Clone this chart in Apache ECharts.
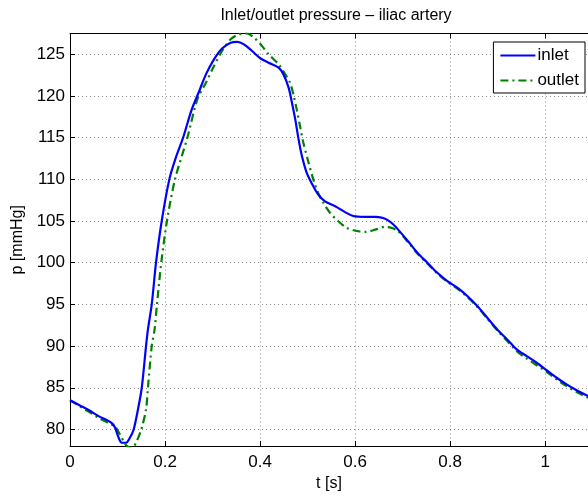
<!DOCTYPE html>
<html>
<head>
<meta charset="utf-8">
<script src="https://cdn.jsdelivr.net/npm/echarts@6/dist/echarts.min.js"></script>
<style>
html,body{margin:0;padding:0;background:#fff;}
#chart{width:588px;height:497px;}
</style>
</head>
<body>
<div id="chart"></div>
<script>
const titleText = 'Inlet/outlet pressure \u2013 iliac artery';
const xName = 't [s]';
const yName = 'p [mmHg]';
const seriesNames = ['inlet', 'outlet'];

const inletT = [0, 0.02, 0.04, 0.06, 0.087, 0.095, 0.101, 0.109, 0.118, 0.126, 0.134, 0.143, 0.151, 0.160, 0.164, 0.172, 0.181, 0.193, 0.209, 0.222, 0.238, 0.255, 0.272, 0.286, 0.303, 0.320, 0.338, 0.352, 0.366, 0.383, 0.401, 0.418, 0.439, 0.449, 0.460, 0.467, 0.474, 0.481, 0.488, 0.498, 0.508, 0.522, 0.536, 0.557, 0.578, 0.596, 0.620, 0.644, 0.662, 0.676, 0.690, 0.711, 0.731, 0.752, 0.773, 0.794, 0.815, 0.836, 0.857, 0.878, 0.899, 0.920, 0.940, 0.961, 0.982, 1.003, 1.024, 1.045, 1.066, 1.09];
const inletP = [83.5, 82.9, 82.3, 81.6, 80.8, 80.2, 79.2, 78.4, 78.4, 79.0, 80.0, 82.4, 85.0, 90.0, 92.0, 95.0, 100.0, 105.0, 110.0, 112.5, 115.0, 118.2, 120.6, 122.6, 124.4, 125.7, 126.4, 126.5, 126.2, 125.4, 124.5, 124.0, 123.4, 122.6, 121.0, 119.2, 117.2, 114.8, 112.8, 110.8, 109.6, 108.2, 107.4, 106.8, 106.1, 105.6, 105.5, 105.5, 105.3, 104.8, 104.0, 102.6, 101.2, 100.0, 98.8, 97.8, 97.0, 96.0, 94.8, 93.4, 92.0, 90.8, 89.6, 88.8, 88.0, 87.1, 86.2, 85.4, 84.7, 84.0];

const outletT = [0, 0.02, 0.04, 0.06, 0.087, 0.094, 0.105, 0.118, 0.127, 0.133, 0.139, 0.150, 0.160, 0.164, 0.172, 0.178, 0.183, 0.192, 0.204, 0.221, 0.247, 0.268, 0.286, 0.303, 0.320, 0.338, 0.355, 0.373, 0.387, 0.401, 0.418, 0.439, 0.453, 0.463, 0.470, 0.477, 0.484, 0.491, 0.502, 0.512, 0.522, 0.533, 0.547, 0.564, 0.582, 0.603, 0.623, 0.644, 0.662, 0.676, 0.690, 0.711, 0.731, 0.752, 0.773, 0.794, 0.815, 0.836, 0.857, 0.878, 0.899, 0.920, 0.940, 0.961, 0.982, 1.003, 1.024, 1.045, 1.066, 1.09];
const outletP = [83.5, 82.8, 82.1, 81.4, 80.6, 80.4, 79.4, 78.1, 77.8, 77.9, 78.4, 80.0, 82.4, 85.0, 90.0, 92.0, 95.0, 100.0, 105.0, 110.0, 115.0, 119.6, 121.6, 123.6, 125.4, 126.8, 127.4, 127.5, 127.0, 126.2, 125.0, 123.8, 122.6, 121.6, 120.2, 118.4, 116.4, 114.4, 112.0, 110.0, 108.4, 107.2, 106.0, 105.0, 104.2, 103.8, 103.7, 104.0, 104.3, 104.2, 103.8, 102.5, 101.1, 99.9, 98.7, 97.7, 96.9, 95.9, 94.7, 93.3, 91.9, 90.6, 89.4, 88.5, 87.7, 86.9, 86.0, 85.2, 84.5, 83.8];

const xMin = 0, xMax = 1.09, xStep = 0.2;
const yMin = 78, yMax = 127.5, yStep = 5;

const FONT = 'Liberation Sans, Arial, Helvetica, sans-serif';

function zip(a, b) { return a.map((v, i) => [v, b[i]]); }

const chart = echarts.init(document.getElementById('chart'), null, {renderer: 'canvas'});

const gridLine = {show: true, lineStyle: {color: '#8a8a8a', type: [1, 3], width: 1}};

chart.setOption({
  animation: false,
  backgroundColor: '#fff',
  title: {
    text: titleText, left: 331, top: 3, textAlign: 'center',
    textStyle: {fontFamily: FONT, fontSize: 16, fontWeight: 'normal', color: '#000'}
  },
  legend: {
    data: seriesNames,
    orient: 'vertical',
    right: 3, top: 42,
    itemWidth: 35, itemHeight: 12, itemGap: 8,
    padding: [5, 6, 4, 6],
    backgroundColor: '#fff',
    borderColor: '#000', borderWidth: 1, borderRadius: 0,
    itemStyle: {opacity: 0},
    textStyle: {fontFamily: FONT, fontSize: 17, color: '#000', padding: [0, 0, 0, -3]}
  },
  grid: {left: 70, right: -4, top: 33.5, bottom: 50, containLabel: false},
  xAxis: [{
    type: 'value', min: xMin, max: xMax, interval: xStep,
    name: xName, nameLocation: 'middle', nameGap: 26,
    nameTextStyle: {fontFamily: FONT, fontSize: 16, color: '#000'},
    axisLine: {show: true, onZero: false, lineStyle: {color: '#000', width: 1}},
    axisTick: {show: true, inside: true, length: 5, lineStyle: {color: '#000'}},
    axisLabel: {fontFamily: FONT, fontSize: 17, color: '#000', margin: 8, showMaxLabel: false},
    splitLine: gridLine
  }, {
    type: 'value', min: xMin, max: xMax, interval: xStep, position: 'top',
    axisLine: {show: true, onZero: false, lineStyle: {color: '#000', width: 1}},
    axisTick: {show: true, inside: true, length: 5, lineStyle: {color: '#000'}},
    axisLabel: {show: false}, splitLine: {show: false}
  }],
  yAxis: [{
    type: 'value', min: yMin, max: yMax, splitNumber: 10, minInterval: yStep, maxInterval: yStep,
    name: yName, nameLocation: 'middle', nameGap: 42,
    nameTextStyle: {fontFamily: FONT, fontSize: 16, color: '#000'},
    axisLine: {show: true, onZero: false, lineStyle: {color: '#000', width: 1}},
    axisTick: {show: true, inside: true, length: 5, lineStyle: {color: '#000'}},
    axisLabel: {fontFamily: FONT, fontSize: 17, color: '#000', margin: 5, showMinLabel: false, showMaxLabel: false},
    splitLine: gridLine
  }],
  series: [{
    name: seriesNames[0], type: 'line', data: zip(inletT, inletP),
    showSymbol: false, symbol: 'none', smooth: 0.3, clip: true,
    lineStyle: {color: '#0000ff', width: 2.2}, itemStyle: {color: '#0000ff'}, z: 3
  }, {
    name: seriesNames[1], type: 'line', data: zip(outletT, outletP),
    showSymbol: false, symbol: 'none', smooth: 0.3, clip: true,
    lineStyle: {color: '#008000', width: 2.2, type: [8, 4, 2, 4]}, itemStyle: {color: '#008000'}, z: 2
  }]
});
</script>
</body>
</html>
